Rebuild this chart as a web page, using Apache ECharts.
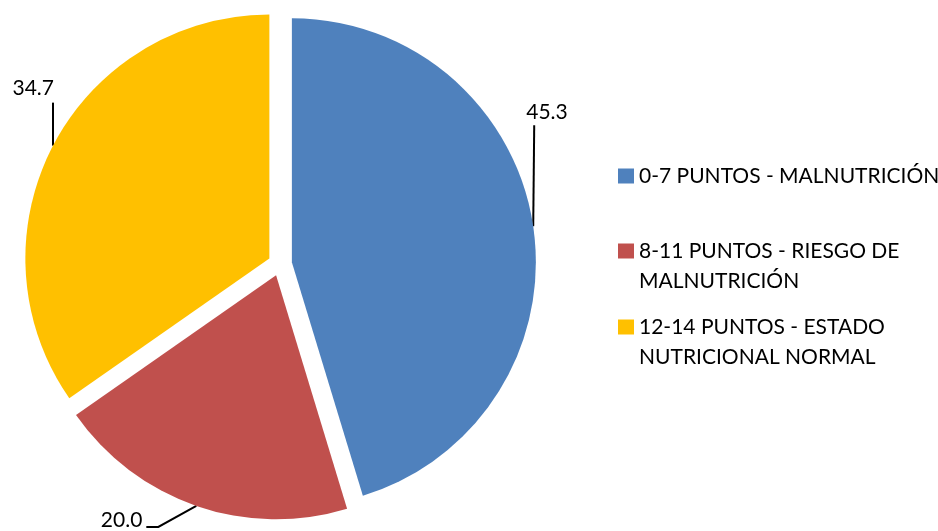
<!DOCTYPE html>
<html>
<head>
<meta charset="utf-8">
<script src="https://cdn.jsdelivr.net/npm/echarts@6/dist/echarts.min.js"></script>
<style>
  html, body { margin: 0; padding: 0; background: #fff; }
  #chart { width: 938px; height: 531px; }
</style>
</head>
<body>
<div id="chart"></div>
<script>
// Puntuación MNA: distribución de pacientes por categoría (%)
const categories = [
  '0-7 PUNTOS - MALNUTRICIÓN',
  '8-11 PUNTOS - RIESGO DE MALNUTRICIÓN',
  '12-14 PUNTOS - ESTADO NUTRICIONAL NORMAL'
];
const legendLabels = [
  '0-7 PUNTOS - MALNUTRICIÓN',
  '8-11 PUNTOS - RIESGO DE\nMALNUTRICIÓN',
  '12-14 PUNTOS - ESTADO\nNUTRICIONAL NORMAL'
];
const values = [45.3, 20.0, 34.7];
const colors = ['#4F81BD', '#C0504D', '#FFC000'];

const FONT = 'Lato';
const FS = 21;

// Pie geometry: every slice is pulled out from the common centre
const CX = 280, CY = 264, R = 244, EXPLODE = 12;

const chart = echarts.init(document.getElementById('chart'), null, { renderer: 'canvas' });

// Where each value label sits relative to the point on its slice's arc
const labelPlacement = [
  { dx: -7, dy: -114, align: 'left', line: [[1, -101]] },
  { dx: -54, dy: 14, align: 'right', line: [[-38, 21], [-50, 21]] },
  { dx: 1, dy: -57, align: 'right', line: [[0, -43]] }
];

const total = values.reduce((s, v) => s + v, 0);
// Mid-angle of each slice, clockwise from 12 o'clock
const midAngles = values.map((v, i) => {
  const before = values.slice(0, i).reduce((s, x) => s + x, 0);
  return (before + v / 2) / total * 2 * Math.PI;
});

function makeLegend(i, top) {
  const twoLines = legendLabels[i].indexOf('\n') >= 0;
  return {
    left: 618,
    top: top,
    padding: 0,
    itemWidth: 16,
    itemHeight: 15,
    icon: 'rect',
    selectedMode: false,
    data: [{ name: categories[i], itemStyle: { color: colors[i] } }],
    // a leading blank line keeps the first text line level with the marker
    formatter: () => (twoLines ? '\u00a0\n' : '') + legendLabels[i],
    textStyle: { fontFamily: FONT, fontSize: FS, color: '#000', lineHeight: 30 }
  };
}

// One pie per slice, each offset along that slice's mid-angle
const series = values.map((v, k) => {
  const ux = Math.sin(midAngles[k]), uy = -Math.cos(midAngles[k]);
  const cx = CX + EXPLODE * ux, cy = CY + EXPLODE * uy;
  const pl = labelPlacement[k];
  return {
    type: 'pie',
    center: [cx, cy],
    radius: R,
    startAngle: 90,
    clockwise: true,
    silent: true,
    avoidLabelOverlap: false,
    emphasis: { disabled: true },
    itemStyle: { borderWidth: 0 },
    data: categories.map((name, i) => ({
      name: name,
      value: values[i],
      itemStyle: { color: i === k ? colors[i] : 'rgba(0,0,0,0)' },
      label: { show: i === k },
      labelLine: { show: i === k }
    })),
    label: {
      position: 'outside',
      formatter: p => p.value.toFixed(1),
      fontFamily: FONT,
      fontSize: FS,
      color: '#000'
    },
    labelLine: {
      length: 10,
      length2: 10,
      lineStyle: { color: '#000', width: 2 }
    },
    labelLayout: function (params) {
      const ax = cx + R * ux, ay = cy + R * uy;
      const pts = [[ax, ay]].concat(pl.line.map(d => [ax + d[0], ay + d[1]]));
      return {
        x: ax + pl.dx,
        y: ay + pl.dy,
        align: pl.align,
        verticalAlign: 'middle',
        labelLinePoints: pts
      };
    }
  };
});

chart.setOption({
  animation: false,
  legend: [
    makeLegend(0, 161),
    makeLegend(1, 206),
    makeLegend(2, 282)
  ],
  series: series
});
</script>
</body>
</html>
